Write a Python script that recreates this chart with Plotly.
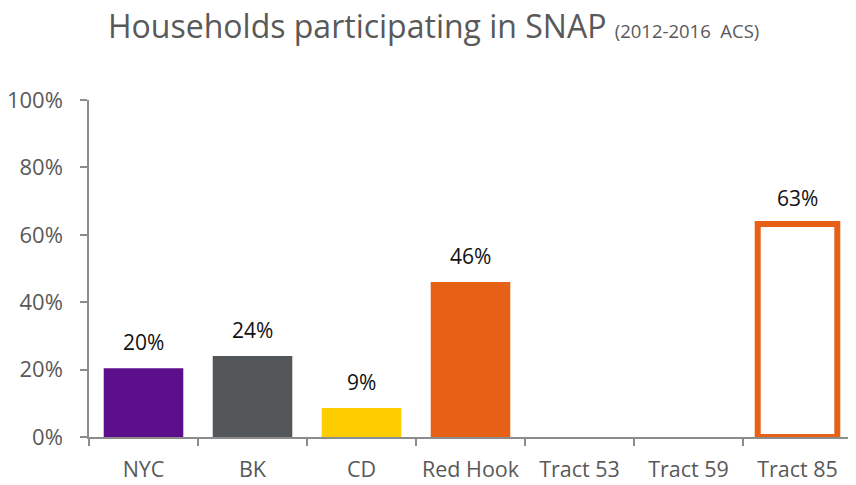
import plotly.graph_objects as go

categories = ["NYC", "BK", "CD", "Red Hook", "Tract 53", "Tract 59", "Tract 85"]
values = [20.4, 24.0, 8.6, 46.0, None, None, 63.2]
fill_colors = ["#5B0F8A", "#53575A", "#FFCC00", "#E66115", "#FFFFFF", "#FFFFFF", "#FFFFFF"]
line_colors = ["#5B0F8A", "#53575A", "#FFCC00", "#E66115", "#FFFFFF", "#FFFFFF", "#E66115"]
line_widths = [0, 0, 0, 0, 0, 0, 6]
y_ticks = [0, 20, 40, 60, 80, 100]
y_tick_labels = ["0%", "20%", "40%", "60%", "80%", "100%"]

FONT = "Open Sans"
GRAY = "#595959"
AXIS = "#8C8C8C"

fig = go.Figure()
fig.add_trace(go.Bar(
    x=categories,
    y=values,
    marker=dict(color=fill_colors, line=dict(color=line_colors, width=line_widths)),
    hoverinfo="skip",
))

for c, v in zip(categories, values):
    if v is None:
        continue
    fig.add_annotation(
        x=c, y=v, xref="x", yref="y",
        text=f"{round(v):d}%",
        showarrow=False, yanchor="bottom", yshift=10,
        font=dict(family=FONT, size=21, color="#111111"),
    )

# chart title as a left-anchored annotation above the plot
fig.add_annotation(
    xref="paper", yref="paper",
    x=17 / 763, y=1 + (92 - 18) / 337,
    xanchor="left", yanchor="middle",
    showarrow=False,
    text="Households participating in SNAP <span style='font-size:18.5px'>(2012-2016&nbsp;&nbsp;ACS)</span>",
    font=dict(family=FONT, size=32, color=GRAY),
)

fig.update_layout(
    width=856, height=485,
    margin=dict(l=81, r=12, t=92, b=56),
    paper_bgcolor="white", plot_bgcolor="white",
    bargap=0.27,
    showlegend=False,
    font=dict(family=FONT, color=GRAY),
)

fig.update_xaxes(
    type="category",
    categoryorder="array", categoryarray=categories,
    showline=True, linecolor=AXIS, linewidth=1.5,
    ticks="outside", ticklen=7, tickcolor=AXIS, tickwidth=1.5,
    tickson="boundaries",
    tickangle=0,
    automargin=False,
    tickfont=dict(family=FONT, size=21.5, color=GRAY),
    ticklabelstandoff=12,
    showgrid=False, zeroline=False,
)
fig.update_yaxes(
    range=[0, 100],
    tickvals=y_ticks, ticktext=y_tick_labels,
    showline=True, linecolor=AXIS, linewidth=1.5,
    ticks="outside", ticklen=7, tickcolor=AXIS, tickwidth=1.5,
    automargin=False,
    tickfont=dict(family=FONT, size=22, color=GRAY),
    ticklabelstandoff=13,
    showgrid=False, zeroline=False,
)

fig.write_html("out.html")
